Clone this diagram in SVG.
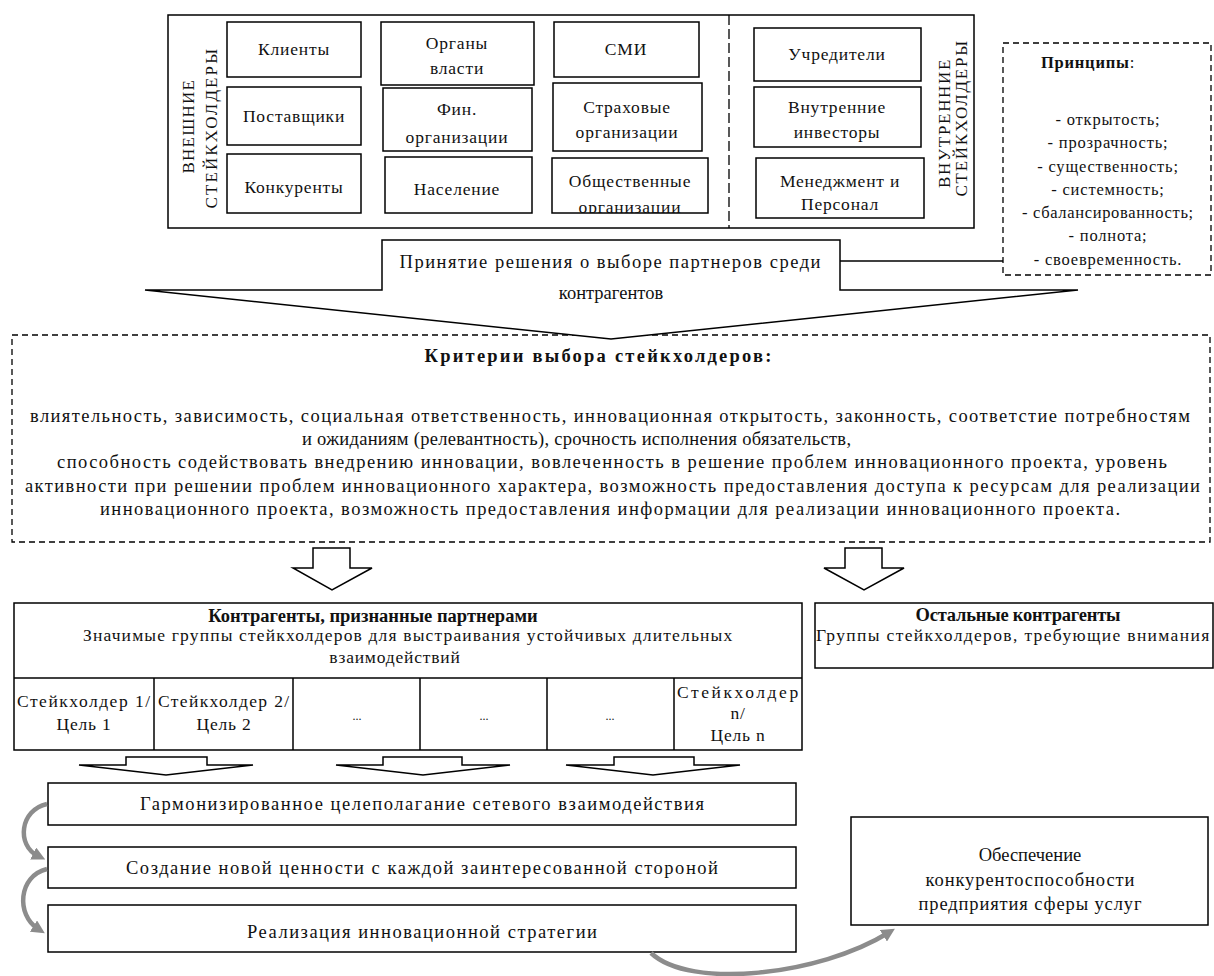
<svg xmlns="http://www.w3.org/2000/svg" width="1214" height="976" viewBox="0 0 1214 976">
<style>
.box{fill:#fff;stroke:#000;stroke-width:1.5}
.dash{fill:#fff;stroke:#000;stroke-width:1.3;stroke-dasharray:6 4}
.ln{fill:none;stroke:#000;stroke-width:1.5}
.harr{fill:#fff;stroke:#000;stroke-width:1.5;stroke-linejoin:miter}
.garr{fill:none;stroke:#8c8c8c;stroke-width:4.5}
.t{font-family:"Liberation Serif",serif;font-size:17.5px;letter-spacing:0.8px;text-anchor:middle;fill:#111}
.p{font-family:"Liberation Serif",serif;font-size:16.5px;letter-spacing:0.8px;text-anchor:middle;fill:#111}
.v{font-family:"Liberation Serif",serif;font-size:17px;letter-spacing:1.5px;text-anchor:middle;fill:#111}
.c{font-family:"Liberation Serif",serif;font-size:18.5px;text-anchor:middle;fill:#111}
.cs{font-family:"Liberation Serif",serif;font-size:18.5px;text-anchor:start;fill:#111}
.b{font-weight:bold}
.dots{font-family:"Liberation Serif",serif;font-size:12px;text-anchor:middle;fill:#111}
</style>
<defs>
<marker id="gh" viewBox="0 0 10 10" refX="4" refY="5" markerWidth="3" markerHeight="3" orient="auto">
<path d="M0,0 L10,5 L0,10 z" fill="#8c8c8c"/>
</marker>
<clipPath id="clipObsh"><rect x="539" y="158" width="169" height="55"/></clipPath>
</defs>

<g id="stakeholders">
<rect class="box" x="168" y="15" width="806" height="213"/>
<line x1="729" y1="15" x2="729" y2="228" stroke="#000" stroke-width="1.3" stroke-dasharray="10 4"/>
<text class="v" transform="translate(194,126) rotate(-90)" textLength="95">ВНЕШНИЕ</text>
<text class="v" transform="translate(217,128) rotate(-90)" textLength="161">СТЕЙКХОЛДЕРЫ</text>
<text class="v" transform="translate(950,123) rotate(-90)" textLength="130">ВНУТРЕННИЕ</text>
<text class="v" transform="translate(967,118) rotate(-90)" textLength="157">СТЕЙКХОЛДЕРЫ</text>
</g>

<g id="n-klienty"><rect class="box" x="227" y="22" width="134" height="55"/><text class="t" x="294" y="55">Клиенты</text></g>
<g id="n-organy"><rect class="box" x="381" y="22" width="153" height="63"/><text class="t" x="457" y="49">Органы</text><text class="t" x="457" y="74">власти</text></g>
<g id="n-smi"><rect class="box" x="554" y="22" width="145" height="55"/><text class="t" x="626" y="55">СМИ</text></g>
<g id="n-postavshiki"><rect class="box" x="227" y="87" width="134" height="58"/><text class="t" x="294" y="122">Поставщики</text></g>
<g id="n-fin"><rect class="box" x="383" y="88" width="149" height="63"/><text class="t" x="457" y="115">Фин.</text><text class="t" x="457" y="143">организации</text></g>
<g id="n-strah"><rect class="box" x="553" y="83" width="149" height="68"/><text class="t" x="627" y="113">Страховые</text><text class="t" x="627" y="138">организации</text></g>
<g id="n-konkurenty"><rect class="box" x="227" y="154" width="134" height="59"/><text class="t" x="294" y="193">Конкуренты</text></g>
<g id="n-naselenie"><rect class="box" x="385" y="157" width="147" height="56"/><text class="t" x="457" y="195">Население</text></g>
<g id="n-obsh"><rect class="box" x="552" y="158" width="156" height="55"/><g clip-path="url(#clipObsh)"><text class="t" x="630" y="187">Общественные</text><text class="t" x="630" y="213">организации</text></g></g>
<g id="n-uchrediteli"><rect class="box" x="754" y="28" width="167" height="53"/><text class="t" x="837" y="60">Учредители</text></g>
<g id="n-investory"><rect class="box" x="754" y="87" width="167" height="60"/><text class="t" x="837" y="113">Внутренние</text><text class="t" x="837" y="138">инвесторы</text></g>
<g id="n-menedzhment"><rect class="box" x="756" y="158" width="168" height="60"/><text class="t" x="840" y="187">Менеджмент  и</text><text class="t" x="840" y="210">Персонал</text></g>

<g id="n-principy">
<rect class="dash" x="1003" y="43" width="208" height="232"/>
<text class="p" x="1088" y="68" font-size="17"><tspan font-weight="bold">Принципы</tspan>:</text>
<text class="p" x="1108" y="125">- открытость;</text>
<text class="p" x="1108" y="148">- прозрачность;</text>
<text class="p" x="1108" y="172">- существенность;</text>
<text class="p" x="1108" y="195">- системность;</text>
<text class="p" x="1108" y="218" textLength="172">- сбалансированность;</text>
<text class="p" x="1108" y="241">- полнота;</text>
<text class="p" x="1108" y="265">- своевременность.</text>
</g>

<g id="n-kriterii">
<rect class="dash" x="12" y="335" width="1198" height="207"/>
<text class="c b" x="598" y="362" textLength="347">Критерии  выбора стейкхолдеров:</text>
<text class="cs" x="30" y="422" textLength="1160">влиятельность, зависимость, социальная ответственность, инновационная открытость, законность, соответстие потребностям</text>
<text class="cs" x="302" y="445" textLength="549">и ожиданиям (релевантность), срочность исполнения обязательств,</text>
<text class="cs" x="57" y="468" textLength="1110">способность содействовать внедрению инновации, вовлеченность в решение проблем инновационного проекта, уровень</text>
<text class="cs" x="25" y="492" textLength="1175">активности при решении проблем инновационного характера, возможность предоставления доступа к ресурсам для реализации</text>
<text class="cs" x="100" y="515" textLength="1020">инновационного проекта, возможность предоставления информации для реализации инновационного проекта.</text>
</g>

<g id="n-reshenie">
<path class="box" d="M145,290 L382,290 L382,240 L840,240 L840,290 L1078,290 L611,339 Z"/>
<text class="c" x="610" y="268" textLength="421">Принятие решения о выборе партнеров среди</text>
<text class="c" x="611" y="299">контрагентов</text>
</g>

<g id="n-partnery">
<rect class="box" x="14" y="603" width="788" height="147"/>
<line class="ln" x1="14" y1="678" x2="802" y2="678"/>
<line class="ln" x1="154" y1="678" x2="154" y2="750"/>
<line class="ln" x1="293" y1="678" x2="293" y2="750"/>
<line class="ln" x1="420" y1="678" x2="420" y2="750"/>
<line class="ln" x1="547" y1="678" x2="547" y2="750"/>
<line class="ln" x1="674" y1="678" x2="674" y2="750"/>
<text class="c b" x="373" y="622" font-size="16.5">Контрагенты, признанные партнерами</text>
<text class="t" x="408" y="641" textLength="650">Значимые группы стейкхолдеров  для выстраивания устойчивых длительных</text>
<text class="t" x="395" y="663">взаимодействий</text>
<text class="t" x="84" y="707" textLength="134">Стейкхолдер 1/</text>
<text class="t" x="84" y="730">Цель 1</text>
<text class="t" x="224" y="707" textLength="132">Стейкхолдер 2/</text>
<text class="t" x="224" y="730">Цель 2</text>
<text class="dots" x="357" y="720">...</text>
<text class="dots" x="484" y="720">...</text>
<text class="dots" x="610" y="720">...</text>
<text class="t" x="738" y="698" textLength="122">Стейкхолдер</text>
<text class="t" x="738" y="719">n/</text>
<text class="t" x="738" y="741">Цель n</text>
</g>

<g id="n-ostalnye">
<rect class="box" x="815" y="603" width="398" height="65"/>
<text class="c b" x="1018" y="621" font-size="16.5" textLength="205">Остальные контрагенты</text>
<text class="t" x="1013" y="641" textLength="394">Группы стейкхолдеров, требующие внимания</text>
</g>

<g id="n-garmon"><rect class="box" x="48" y="783" width="748" height="42"/><text class="c" x="422" y="810" textLength="564">Гармонизированное целеполагание сетевого взаимодействия</text></g>
<g id="n-sozdanie"><rect class="box" x="48" y="847" width="748" height="41"/><text class="c" x="422" y="874" textLength="592">Создание новой ценности с каждой заинтересованной стороной</text></g>
<g id="n-realizacia"><rect class="box" x="48" y="905" width="748" height="47"/><text class="c" x="422" y="938" textLength="350">Реализация инновационной стратегии</text></g>

<g id="n-obespechenie">
<rect class="box" x="851" y="817" width="357" height="108"/>
<text class="c" x="1030" y="861">Обеспечение</text>
<text class="c" x="1030" y="886" textLength="209">конкурентоспособности</text>
<text class="c" x="1030" y="910" textLength="223">предприятия сферы услуг</text>
</g>

<g id="connectors">
<line class="ln" x1="840" y1="261" x2="1003" y2="261"/>
<path class="harr" d="M313,548 H350 V568 H372 L332,590 L293,568 H313 Z"/>
<path class="harr" d="M845,548 H882 V568 H904 L864,590 L824,568 H845 Z"/>
<path class="harr" d="M126,757 H207 V765 H253 L166,775 L79,765 H126 Z"/>
<path class="harr" d="M383,757 H462 V765 H510 L423,775 L336,765 H383 Z"/>
<path class="harr" d="M614,757 H694 V765 H740 L653,775 L566,765 H614 Z"/>
<path class="garr" d="M47,804 C20,810 16,845 38,856" marker-end="url(#gh)"/>
<path class="garr" d="M47,869 C18,876 16,915 38,929" marker-end="url(#gh)"/>
<path class="garr" d="M651,953 C690,990 820,975 888,933" marker-end="url(#gh)"/>
</g>
</svg>
